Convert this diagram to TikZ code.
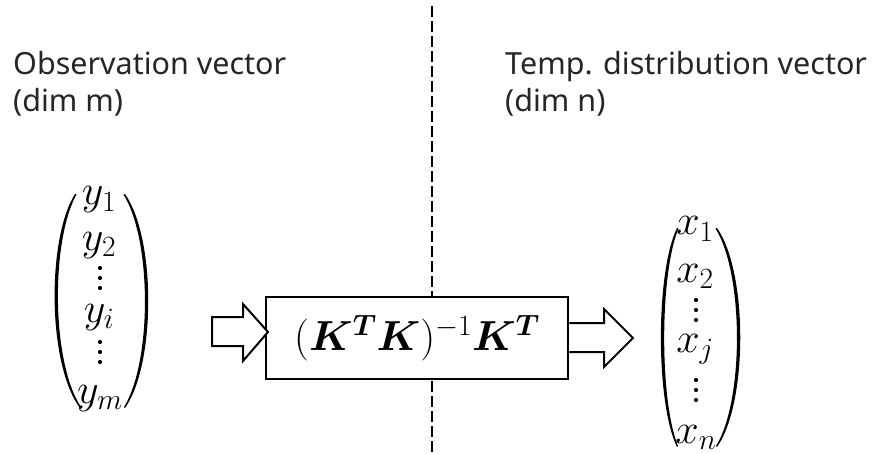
\RequirePackage{fix-cm}
\documentclass[tikz,border=0pt]{standalone}
\usepackage{amsmath,bm}
\usepackage{fontspec}
\setsansfont{Noto Sans}
\begin{document}
\begin{tikzpicture}[x=1pt,y=-1pt,
  lbl/.style={anchor=base west, inner sep=0pt, font=\sffamily\fontsize{30.5}{37}\selectfont, text=black!85},
  ent/.style={anchor=base, inner sep=0pt, font=\fontsize{42}{46}\selectfont},
  vdot/.style={circle, fill=black, inner sep=0pt, minimum size=4.2pt},
  blockarrow/.style={draw=black, line width=2pt, line join=miter, fill=white},
  opbox/.style={draw=black, line width=2.5pt, fill=white, minimum width=302pt, minimum height=82pt, inner sep=0pt, font=\fontsize{42}{46}\selectfont},
  divider/.style={draw=black, line width=1.2pt, dash pattern=on 11pt off 4pt},
]
\useasboundingbox (0,0) rectangle (877,454);

% labels
\node[lbl] (obs1) at (13,75) {Observation vector};
\node[lbl] (obs2) at (13,112) {(dim m)};
\node[lbl] (tmp1) at (505,75) {Temp. distribution vector};
\node[lbl] (tmp2) at (505,112) {(dim n)};

% divider
\coordinate (dtop) at (432,6);
\coordinate (dbot) at (432,454);
\draw[divider] (dtop) -- (dbot);

% operator box
\node[opbox] (op) at (417,338) {$(\bm{K}^{\bm{T}}\bm{K})^{-1}\bm{K}^{\bm{T}}$};

% left vector
\fill (75,194) .. controls (47,238) and (47,364) .. (80,408) -- (81,407) .. controls (51,362) and (51,240) .. (76.5,194.5) -- cycle;
\fill (125,194) .. controls (156,238) and (156,364) .. (125,408) -- (124,407) .. controls (152,362) and (152,240) .. (123.5,194.5) -- cycle;
\node[ent] (y1) at (99,205) {$y_1$};
\node[ent] (y2) at (99,250) {$y_2$};
\node[vdot] (ya) at (100,268) {};
\node[vdot] (yb) at (100,278) {};
\node[vdot] (yc) at (100,288) {};
\node[ent] (yi) at (99,322) {$y_i$};
\node[vdot] (yd) at (100,342) {};
\node[vdot] (ye) at (100,352) {};
\node[vdot] (yf) at (100,362) {};
\node[ent] (ym) at (100,403) {$y_m$};

% right vector
\fill (677,228) .. controls (655.5,272) and (655.5,403) .. (677,447) -- (678,446) .. controls (659.5,401) and (659.5,274) .. (678.5,228.5) -- cycle;
\fill (717,228) .. controls (748,272) and (748,403) .. (717,447) -- (716,446) .. controls (744,401) and (744,274) .. (715.5,228.5) -- cycle;
\node[ent] (x1) at (695,235) {$x_1$};
\node[ent] (x2) at (695,282) {$x_2$};
\node[vdot] (xa) at (696,300) {};
\node[vdot] (xb) at (696,310) {};
\node[vdot] (xc) at (696,320) {};
\node[ent] (xj) at (695,352) {$x_j$};
\node[vdot] (xd) at (696,380) {};
\node[vdot] (xe) at (696,390) {};
\node[vdot] (xf) at (696,400) {};
\node[ent] (xn) at (696,443) {$x_n$};

% block arrows
\draw[blockarrow] (212,317) -- (243,317) -- (243,304) -- (268,332) -- (243,361) -- (243,346) -- (212,346) -- cycle;
\draw[blockarrow, fill=none] (op.east |- 0,323) -- (604,323) -- (604,309) -- (633,338) -- (604,367) -- (604,352) -- (op.east |- 0,352);
\end{tikzpicture}
\end{document}
